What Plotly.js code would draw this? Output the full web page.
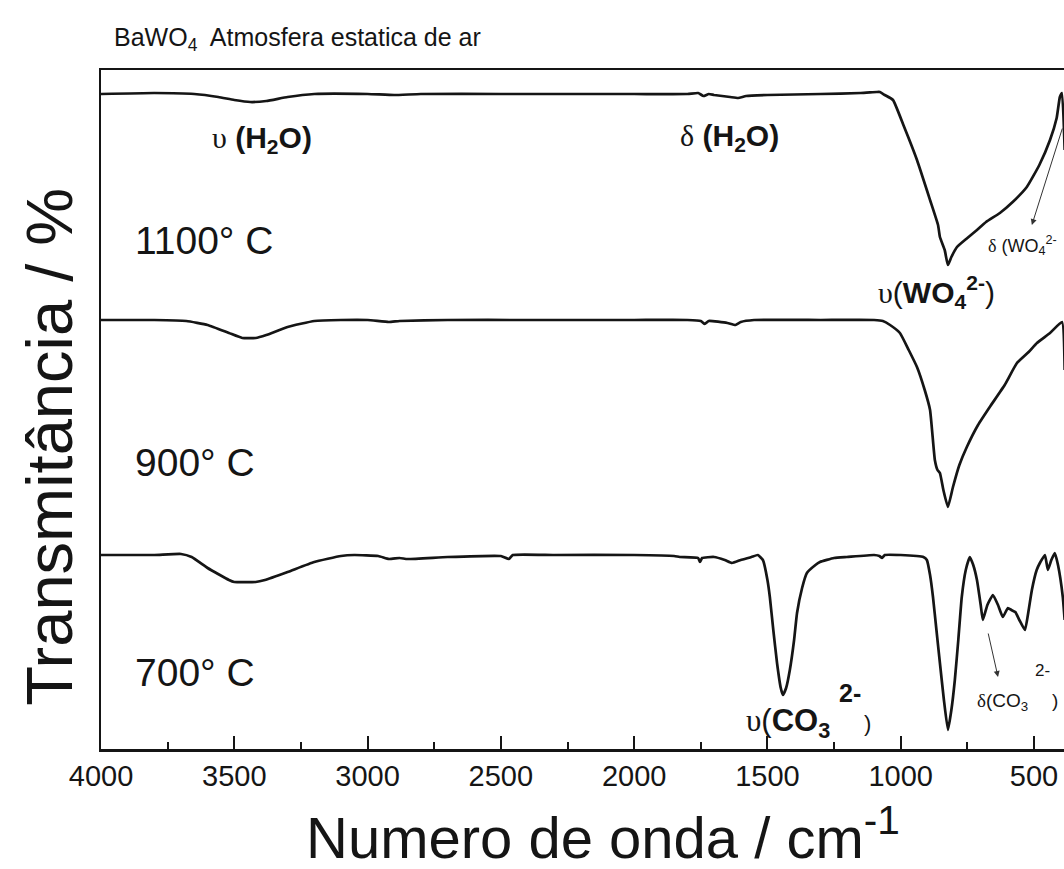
<!DOCTYPE html>
<html>
<head>
<meta charset="utf-8">
<script src="https://cdn.plot.ly/plotly-3.0.1.min.js"></script>
<style>
  html, body { margin: 0; padding: 0; overflow: hidden; background: #ffffff; }
  #chart { width: 1080px; height: 869px; }
</style>
</head>
<body>
<div id="chart"></div>
<script>
// FTIR spectra of BaWO4 calcined in static air, stacked with vertical offsets
// Wavenumber in cm^-1, transmittance in arbitrary (offset) units.

const wn1100 = [4000,3800,3650,3560,3500,3440,3380,3300,3200,3000,2900,2800,2500,2000,1800,1760,1740,1720,1700,1640,
                1610,1580,1500,1300,1150,1090,1078,1060,1029,990,939,890,860,853,835,823,810,789,750,714,
                680,628,580,527,480,440,415,403,395,385];
const t1100 = [65.5,65.6,65.5,65.2,64.9,64.7,64.8,65.2,65.5,65.5,65.4,65.5,65.5,65.5,65.5,65.6,65.3,65.5,65.4,65.2,
               65.1,65.3,65.4,65.5,65.6,65.7,65.7,65.4,64.9,62.4,58.9,54.9,52.4,51.2,49.9,48.4,49.2,50.2,51.1,51.9,
               52.7,53.6,54.7,56.2,58.4,60.9,63.1,65.2,65.6,59.9];

const wn900 = [4000,3800,3680,3600,3520,3470,3420,3380,3300,3200,3100,3000,2920,2880,2700,2400,2000,1800,1750,1735,
               1720,1650,1620,1600,1550,1300,1100,1067,1040,1003,970,939,910,890,872,862,853,840,823,804,
               780,752,710,666,610,564,520,489,440,395,385];
const t900 = [42.9,42.9,42.8,42.4,41.6,41.1,41.1,41.4,42.2,42.8,42.9,42.9,42.7,42.8,42.9,42.9,42.9,42.9,42.8,42.5,
              42.8,42.6,42.4,42.7,42.9,42.9,42.9,42.8,42.4,41.6,39.9,38.2,35.9,33.9,28.9,27.9,27.6,25.9,24.2,26.2,
              28.4,30.2,32.4,34.2,36.4,38.6,39.7,40.6,41.6,42.7,37.9];

const wn700 = [4000,3800,3700,3660,3600,3520,3500,3420,3385,3300,3200,3100,3050,2960,2920,2880,2850,2700,2500,2470,
               2455,2300,2000,1850,1829,1760,1753,1745,1700,1660,1633,1600,1560,1536,1517,1500,1491,1478,1464,1450,
               1442,1430,1416,1400,1389,1370,1352,1320,1303,1250,1202,1100,1080,1070,1060,1000,940,915,902,890,
               879,866,853,838,823,810,797,784,771,756,741,728,714,700,692,675,654,635,617,598,
               585,570,555,534,520,508,490,478,459,448,435,422,410,392,385];
const t700 = [19.4,19.4,19.5,19.2,18.1,16.9,16.7,16.7,16.9,17.7,18.7,19.3,19.4,19.3,19.0,19.1,19.0,19.2,19.3,19.0,
              19.4,19.4,19.4,19.3,19.2,19.1,18.7,19.1,19.2,18.9,18.6,18.9,19.2,19.4,18.9,16.9,15.2,11.9,8.6,6.1,
              5.4,6.1,7.9,10.9,13.6,16.1,17.6,18.4,18.7,19.1,19.2,19.4,19.3,19.1,19.4,19.4,19.3,19.2,18.9,17.4,
              15.2,11.9,8.6,4.9,1.9,3.9,6.9,10.9,15.2,17.9,19.2,18.4,16.9,14.4,12.9,14.4,15.4,14.4,13.2,14.1,
              13.9,13.7,12.9,11.9,13.9,15.9,17.9,18.6,19.4,17.9,18.9,19.6,18.4,15.2,12.9];

const seriesNames = ['1100° C', '900° C', '700° C'];
const xTickVals = [4000, 3500, 3000, 2500, 2000, 1500, 1000, 500];
const xTickText = ['4000', '3500', '3000', '2500', '2000', '1500', '1000', '500'];

const ink = '#151515';
const lineStyle = { color: ink, width: 2.7, shape: 'spline', smoothing: 0.4 };

const traces = [
  { x: wn1100, y: t1100, name: seriesNames[0], mode: 'lines', line: lineStyle },
  { x: wn900,  y: t900,  name: seriesNames[1], mode: 'lines', line: lineStyle },
  { x: wn700,  y: t700,  name: seriesNames[2], mode: 'lines', line: lineStyle }
];

const sans = 'Liberation Sans, Arial, sans-serif';
const serif = 'Liberation Serif, Times New Roman, serif';
const gk = (c) => '<span style="font-family:' + serif + '">' + c + '</span>';

const annotations = [
  // band assignments
  { x: 3396, y: 61.0, text: gk('υ') + ' <b>(H<sub>2</sub>O)</b>', font: { size: 30 } },
  { x: 1641, y: 61.2, text: gk('δ') + ' <b>(H<sub>2</sub>O)</b>', font: { size: 30 } },
  { x: 866, y: 45.7, text: gk('υ') + '(<b>WO<sub>4</sub><sup>2-</sup></b>)', font: { size: 30 } },
  { x: 680, y: 50.4, xanchor: 'left', text: gk('δ') + ' (WO<sub>4</sub><sup>2-</sup>', font: { size: 18 } },
  { x: 508, y: 52.4, ax: 392, ay: 62.2, axref: 'x', ayref: 'y', text: '', showarrow: true,
    arrowhead: 2, arrowsize: 1.2, arrowwidth: 1, arrowcolor: '#333' },
  { x: 1423, y: 2.6, text: gk('υ') + '(<b>CO<sub>3</sub></b>', font: { size: 31 } },
  { x: 1191, y: 5.6, text: '<b>2-</b>', font: { size: 25 } },
  { x: 1123, y: 2.6, text: ')', font: { size: 22 } },
  { x: 617, y: 4.7, text: gk('δ') + '(CO<sub>3</sub>', font: { size: 19 } },
  { x: 470, y: 7.9, text: '2-', font: { size: 17 } },
  { x: 422, y: 4.9, text: ')', font: { size: 19 } },
  { x: 635, y: 7.2, ax: 673, ay: 11.7, axref: 'x', ayref: 'y', text: '', showarrow: true,
    arrowhead: 2, arrowsize: 1.2, arrowwidth: 1, arrowcolor: '#333' },
  // temperature labels
  { x: 3880, y: 50.9, xanchor: 'left', text: seriesNames[0], font: { size: 39 } },
  { x: 3880, y: 28.7, xanchor: 'left', text: seriesNames[1], font: { size: 39 } },
  { x: 3880, y: 7.7, xanchor: 'left', text: seriesNames[2], font: { size: 39 } },
  // axis titles and heading
  { xref: 'paper', yref: 'paper', x: 0.52, y: -0.125, yanchor: 'middle',
    text: 'Numero de onda / cm<sup>-1</sup>', font: { size: 58 } },
  { xref: 'paper', yref: 'paper', x: -0.053, y: 0.445, textangle: -90,
    text: 'Transmitância / %', font: { size: 65 } },
  { xref: 'paper', yref: 'paper', x: 0.0115, y: 1.046, xanchor: 'left', yanchor: 'middle',
    text: 'BaWO<sub>4</sub>  Atmosfera estatica de ar', font: { size: 25 } }
].map(a => Object.assign({ showarrow: false, xanchor: 'center', yanchor: 'middle' }, a,
  { font: Object.assign({ family: sans, color: ink }, a.font || {}) }));

const layout = {
  width: 1080, height: 869,
  margin: { l: 101, r: 14, t: 70, b: 120 },
  paper_bgcolor: '#ffffff', plot_bgcolor: '#ffffff',
  showlegend: false,
  font: { family: sans, color: ink },
  xaxis: {
    range: [4000, 380], showgrid: false, zeroline: false,
    showline: true, linecolor: ink, linewidth: 2.5, mirror: true,
    ticks: 'inside', ticklen: 13, tickwidth: 2, tickcolor: ink,
    tickvals: xTickVals, ticktext: xTickText,
    tickfont: { size: 29, family: sans, color: ink },
    minor: { ticks: 'inside', ticklen: 7, tickwidth: 2, tickcolor: ink, dtick: 250, tick0: 0, showgrid: false }
  },
  yaxis: {
    range: [0, 67.9], showgrid: false, zeroline: false,
    showline: true, linecolor: ink, linewidth: 2.5, mirror: true,
    ticks: '', showticklabels: false
  },
  annotations: annotations
};

Plotly.newPlot('chart', traces, layout, { staticPlot: true, displayModeBar: false });
</script>
</body>
</html>
